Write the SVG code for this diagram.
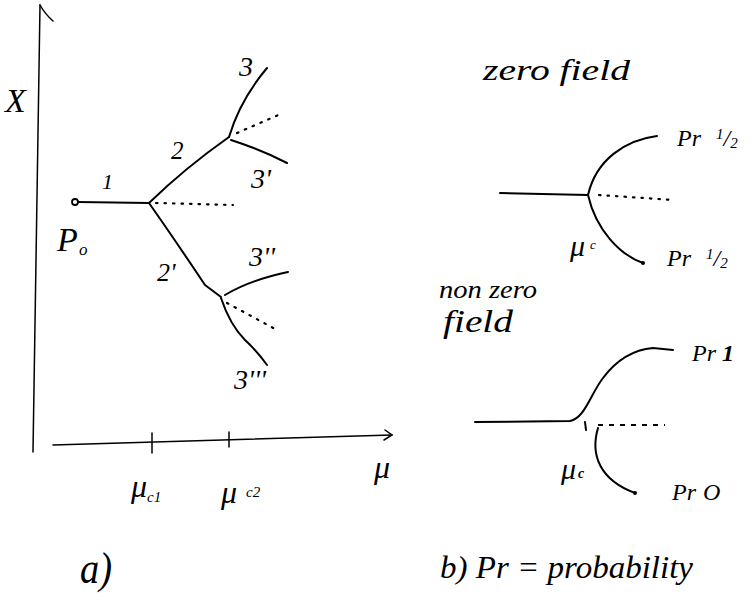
<svg xmlns="http://www.w3.org/2000/svg" width="753" height="603" viewBox="0 0 753 603">
<style>
.ln{fill:none;stroke:#000;stroke-width:2;stroke-linecap:round;stroke-linejoin:round}
.ax{fill:none;stroke:#000;stroke-width:1.5;stroke-linecap:round}
.dt{fill:none;stroke:#000;stroke-width:2.2;stroke-dasharray:1.5 7;stroke-linecap:round}
.ds{fill:none;stroke:#000;stroke-width:2;stroke-dasharray:5 6}
.t{font-family:"Liberation Serif",serif;font-style:italic;fill:#000}
</style>
<rect width="753" height="603" fill="#fff"/>
<g id="axes">
<path class="ax" d="M40,5 L33,452"/>
<path class="ax" d="M40,5 Q45,14 53,21"/>
<path class="ax" d="M53,445 L392,435"/>
<path class="ax" d="M385,430 L392,435 L384,440"/>
<path class="ax" d="M152,433 L152,453 M229,432 L229,447"/>
<text class="t" x="5" y="112" font-size="34">X</text>
<text class="t" x="131" y="497" font-size="32">μ<tspan x="147" y="502" font-size="15">c1</tspan></text>
<text class="t" x="221" y="503" font-size="32">μ<tspan x="246" y="497" font-size="15">c2</tspan></text>
<text class="t" x="374" y="478" font-size="32">μ</text>
<text class="t" x="80" y="583" font-size="44" textLength="32" lengthAdjust="spacingAndGlyphs">a)</text>
</g>
<g id="tree-a">
<circle cx="75" cy="202" r="3" fill="#fff" stroke="#000" stroke-width="1.8"/>
<path class="ln" d="M78,202 L149,203"/>
<path class="ln" d="M149,203 Q185,168 229,137"/>
<path class="dt" d="M156,203 L233,205"/>
<path class="ln" d="M149,203 Q175,240 205,285 L221,297"/>
<path class="ln" d="M229,137 Q240,100 267,68"/>
<path class="dt" d="M237,133 L283,113"/>
<path class="ln" d="M231,140 Q262,150 287,163"/>
<path class="ln" d="M225,295 Q250,280 288,272"/>
<path class="dt" d="M227,303 L277,330"/>
<path class="ln" d="M221,298 Q230,325 245,340 Q258,352 267,365"/>
<text class="t" x="102" y="189" font-size="22">1</text>
<text class="t" x="57" y="251" font-size="34">P<tspan x="79" y="255" font-size="17">o</tspan></text>
<text class="t" x="171" y="159" font-size="25">2</text>
<text class="t" x="157" y="281" font-size="26">2'</text>
<text class="t" x="239" y="76" font-size="28">3</text>
<text class="t" x="251" y="188" font-size="28">3'</text>
<text class="t" x="249" y="266" font-size="28">3''</text>
<text class="t" x="234" y="389" font-size="28">3'''</text>
</g>
<g id="zero-field">
<text class="t" x="483" y="80" font-size="30" textLength="147" lengthAdjust="spacingAndGlyphs">zero field</text>
<path class="ln" d="M500,193 L588,195"/>
<path class="ln" d="M588,195 C596,160 625,140 657,136"/>
<path class="ln" d="M588,195 C596,230 620,255 643,263"/>
<circle cx="643" cy="263" r="2"/>
<path class="dt" d="M599,195 L673,200"/>
<text class="t" x="677" y="146" font-size="24">Pr</text>
<text class="t" x="716" y="146" font-size="24"><tspan font-size="15" dy="-7">1</tspan><tspan dy="7">/</tspan><tspan font-size="15" dy="2">2</tspan></text>
<text class="t" x="667" y="266" font-size="24">Pr</text>
<text class="t" x="706" y="266" font-size="24"><tspan font-size="15" dy="-7">1</tspan><tspan dy="7">/</tspan><tspan font-size="15" dy="2">2</tspan></text>
<text class="t" x="570" y="256" font-size="30">μ<tspan x="590" y="249" font-size="13">c</tspan></text>
</g>
<g id="nonzero-field">
<text class="t" x="439" y="298" font-size="26" textLength="98" lengthAdjust="spacingAndGlyphs">non zero</text>
<text class="t" x="443" y="332" font-size="32" textLength="70" lengthAdjust="spacingAndGlyphs">field</text>
<path class="ln" d="M475,422 L570,421 C585,418 590,395 603,378 C615,362 630,350 653,348 L673,350"/>
<path class="ln" d="M585,422 L586,430"/>
<path class="ds" d="M598,425 L665,425"/>
<path class="ln" d="M598,428 C590,455 600,480 635,493"/>
<circle cx="635" cy="493" r="2"/>
<text class="t" x="561" y="479" font-size="30">μ<tspan x="578" y="478" font-size="14" font-weight="bold">c</tspan></text>
<text class="t" x="692" y="361" font-size="24">Pr <tspan font-weight="bold">1</tspan></text>
<text class="t" x="672" y="500" font-size="24">Pr</text>
<text class="t" x="703" y="500" font-size="24" font-style="normal" font-family="Liberation Sans, sans-serif">O</text>
<text class="t" x="440" y="578" font-size="31" textLength="253" lengthAdjust="spacingAndGlyphs">b) Pr = probability</text>
</g>
</svg>
